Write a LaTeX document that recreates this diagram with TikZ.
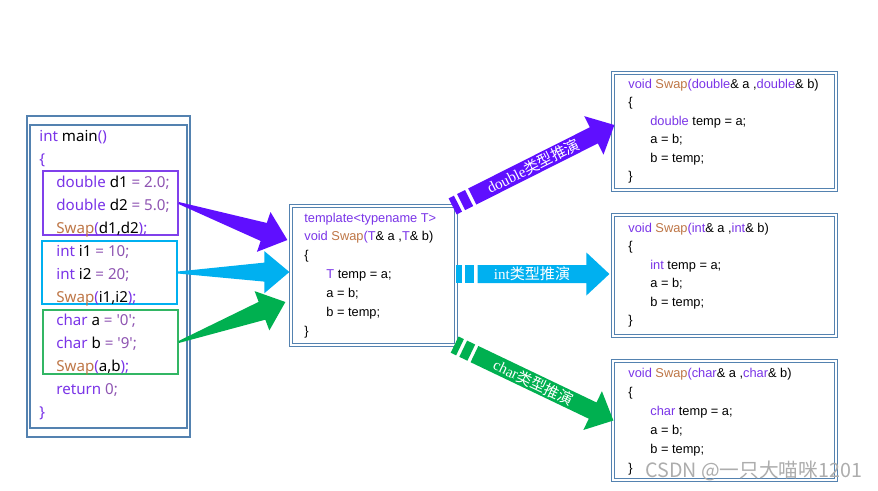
\documentclass[tikz,border=0pt]{standalone}
\usepackage{fontspec}
\setmainfont{Liberation Sans}
\newfontfamily\yahei{Noto Sans}
\newfontfamily\cjk{Noto Sans CJK SC}
\newfontfamily\songti{Liberation Serif}
\usetikzlibrary{calc,fit}

\definecolor{kwc}{RGB}{122,52,232}
\definecolor{fnc}{RGB}{190,118,70}
\definecolor{numc}{RGB}{142,84,178}
\definecolor{framec}{RGB}{84,130,176}
\definecolor{dblc}{RGB}{95,15,255}
\definecolor{intc}{RGB}{0,176,240}
\definecolor{chrc}{RGB}{0,176,80}
\definecolor{dblbox}{RGB}{128,64,235}
\definecolor{chrbox}{RGB}{50,182,100}

\newcommand{\kw}[1]{\textcolor{kwc}{#1}}
\newcommand{\fn}[1]{\textcolor{fnc}{#1}}
\newcommand{\nm}[1]{\textcolor{numc}{#1}}
\newcommand{\sq}{\textquotesingle}

% tapered block arrow: tail, tip, colour
\newcommand{\taperarrow}[3]{%
  \coordinate (hb) at ($(#2)!0.5cm!(#1)$);
  \fill[#3] ($(#1)!0.02cm!90:(#2)$) -- ($(hb)!0.19cm!90:(#2)$)
    -- ($(hb)!0.42cm!90:(#2)$) -- (#2) -- ($(hb)!0.42cm!-90:(#2)$)
    -- ($(hb)!0.19cm!-90:(#2)$) -- ($(#1)!0.02cm!-90:(#2)$) -- cycle;
}

% striped block arrow with label: tail, tip, colour, label
\newcommand{\stripearrow}[4]{%
  \coordinate (sa) at ($(#1)!0.12cm!(#2)$);
  \coordinate (sb) at ($(#1)!0.19cm!(#2)$);
  \coordinate (sc) at ($(#1)!0.37cm!(#2)$);
  \coordinate (sd) at ($(#1)!0.44cm!(#2)$);
  \coordinate (hb) at ($(#2)!0.46cm!(#1)$);
  \fill[#3] ($(#1)!0.18cm!90:(#2)$) -- ($(sa)!0.18cm!90:(#2)$)
    -- ($(sa)!0.18cm!-90:(#2)$) -- ($(#1)!0.18cm!-90:(#2)$) -- cycle;
  \fill[#3] ($(sb)!0.18cm!90:(#2)$) -- ($(sc)!0.18cm!90:(#2)$)
    -- ($(sc)!0.18cm!-90:(#2)$) -- ($(sb)!0.18cm!-90:(#2)$) -- cycle;
  \fill[#3] ($(sd)!0.18cm!90:(#2)$) -- ($(hb)!0.18cm!90:(#2)$)
    -- ($(hb)!0.43cm!90:(#2)$) -- (#2) -- ($(hb)!0.43cm!-90:(#2)$)
    -- ($(hb)!0.18cm!-90:(#2)$) -- ($(sd)!0.18cm!-90:(#2)$) -- cycle;
  \path (sd) -- (hb) node[lbl, midway, sloped] {#4};
}

\begin{document}
\begin{tikzpicture}[
  x=0.02cm, y=-0.02cm,
  frame/.style  = {draw=framec, line width=0.7pt, double=white,
                   double distance=0.9pt, inner sep=0},
  mframe/.style = {draw=framec, line width=0.85pt, inner sep=0},
  grp/.style    = {draw=#1, line width=0.8pt, inner sep=0},
  mcode/.style  = {anchor=base west, inner sep=0,
                   font=\yahei\fontsize{8.6}{10}\selectfont},
  rcode/.style  = {anchor=base west, inner sep=0,
                   font=\fontsize{7.3}{9}\selectfont},
  lbl/.style    = {text=white, inner sep=0,
                   font=\fontsize{8.6}{10}\selectfont},
]
\fill[white] (0,0) rectangle (878,490);
\useasboundingbox (0,0) rectangle (878,490);

% ----------------------------- main() -------------------------------------
\node[mframe, fit={(27,116) (190,437)}] (mainout) {};
\node[mframe, fit={(30,125) (187,428)}] (mainin) {};
\node[grp=dblbox, fit={(43,171) (178,235)}] (grpd) {};
\node[grp=intc,   fit={(42,241) (177,304)}] (grpi) {};
\node[grp=chrbox, fit={(43,310) (178,374)}] (grpc) {};

\foreach \cx/\ctext [count=\row] in {
  39/{\kw{int} main\kw{()}},
  39/{\kw{\{}},
  56/{\kw{double} d1 \nm{= 2.0;}},
  56/{\kw{double} d2 \nm{= 5.0;}},
  56/{\fn{Swap}\kw{(}d1,d2\kw{);}},
  56/{\kw{int} i1 \nm{= 10;}},
  56/{\kw{int} i2 \nm{= 20;}},
  56/{\fn{Swap}\kw{(}i1,i2\kw{);}},
  56/{\kw{char} a \nm{= \sq0\sq;}},
  56/{\kw{char} b \nm{= \sq9\sq;}},
  56/{\fn{Swap}\kw{(}a,b\kw{);}},
  56/{\kw{return} \nm{0;}},
  39/{\kw{\}}}}
  \node[mcode] at (\cx, {141+23*(\row-1)}) {\ctext};

% ----------------------------- template -----------------------------------
\node[frame, fit={(291,206) (456,345)}] (tpl) {};
\foreach \cx/\ctext [count=\row] in {
  304/{\kw{template<typename T>}},
  304/{\kw{void} \fn{Swap}\kw{(T}\& a ,\kw{T}\& b)},
  304/{\{},
  326/{\kw{T} temp = a;},
  326/{a = b;},
  326/{b = temp;},
  304/{\}}}
  \node[rcode] at (\cx, {222+18.9*(\row-1)}) {\ctext};

% ----------------------------- instances ----------------------------------
\foreach \ty/\bx/\ya/\yb/\yy/\dy in {double/rd/73/190/88/18.5,
    int/ri/215/336/232/18.5, char/rc/361/480/377/19} {
  \node[frame, fit={(613,\ya) (836,\yb)}] (\bx) {};
  \node[rcode] at (628,\yy) {\kw{void} \fn{Swap}\kw{(\ty}\& a ,\kw{\ty}\& b)};
  \node[rcode] at (628,{\yy+\dy}) {\{};
  \node[rcode] at (650,{\yy+2*\dy}) {\kw{\ty} temp = a;};
  \node[rcode] at (650,{\yy+3*\dy}) {a = b;};
  \node[rcode] at (650,{\yy+4*\dy}) {b = temp;};
  \node[rcode] at (628,{\yy+5*\dy}) {\}};
}

% ----------------------------- calls -> template --------------------------
\coordinate (ldp) at ($(tpl.west)+(-3,-35.5)$);
\coordinate (lip) at ($(tpl.west)+(-1,-3.5)$);
\coordinate (lcp) at ($(tpl.west)+(-5,26.5)$);
\taperarrow{grpd.east}{ldp}{dblc}
\taperarrow{grpi.east}{lip}{intc}
\taperarrow{grpc.east}{lcp}{chrc}

% ----------------------------- deduction arrows ---------------------------
\coordinate (rdt) at ($(tpl.north east)+(-4,1)$);
\coordinate (rdp) at ($(rd.west)+(2,-6.5)$);
\coordinate (rit) at ($(tpl.east)+(-1,-1.5)$);
\coordinate (rip) at ($(ri.west)+(-3,-1.5)$);
\coordinate (rct) at ($(tpl.south east)+(-2,-1)$);
\coordinate (rcp) at ($(rc.west)+(1,0)$);
\stripearrow{rdt}{rdp}{dblc}{{\songti double}{\cjk 类型推演}}
\stripearrow{rit}{rip}{intc}{{\songti int}{\cjk 类型推演}}
\stripearrow{rct}{rcp}{chrc}{{\songti char}{\cjk 类型推演}}

% ----------------------------- watermark ----------------------------------
\node[anchor=base west, inner sep=0, text=black!32,
      font=\cjk\fontsize{11.2}{12}\selectfont] (wm) at (645,477)
  {CSDN @一只大喵咪1201};

\end{tikzpicture}
\end{document}
